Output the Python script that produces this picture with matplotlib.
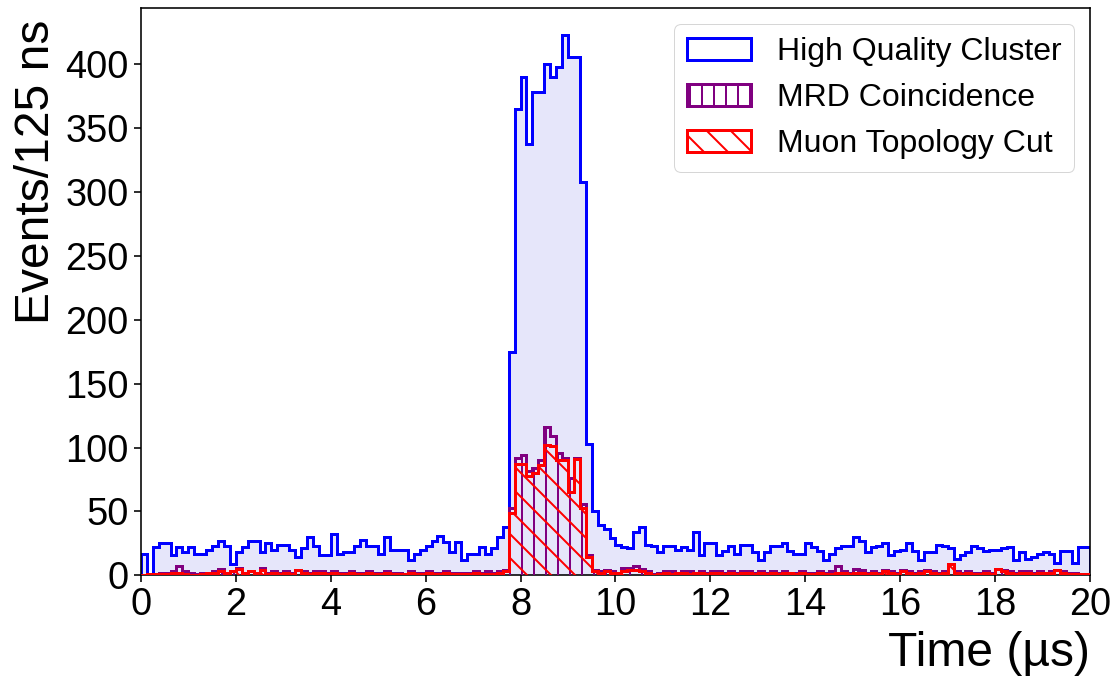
import numpy as np
import matplotlib
matplotlib.use("Agg")
import matplotlib.pyplot as plt

# histogram binning: 160 bins of 125 ns from 0 to 20 us
bin_width = 0.125
n_bins = 160

# counts per bin
high_quality = [
    17, 0, 22, 25, 25, 16, 22, 18, 22, 17, 17, 20, 23, 27, 23, 9, 18, 22, 27, 27,
    18, 25, 20, 24, 24, 20, 14, 21, 30, 23, 16, 16, 32, 17, 18, 18, 23, 28, 23, 23,
    17, 30, 20, 20, 20, 12, 17, 20, 23, 27, 31, 26, 18, 26, 12, 17, 17, 22, 17, 21,
    30, 38, 175, 365, 390, 338, 378, 378, 400, 390, 398, 423, 406, 406, 308, 103,
    50, 39, 36, 29, 24, 22, 21, 34, 38, 24, 23, 18, 23, 23, 20, 22, 20, 34, 16, 25,
    25, 16, 19, 23, 17, 24, 24, 18, 12, 18, 23, 23, 25, 19, 17, 17, 25, 22, 19, 12,
    17, 21, 23, 23, 30, 27, 18, 22, 23, 25, 16, 19, 20, 25, 19, 12, 18, 18, 24, 23,
    21, 13, 16, 18, 23, 21, 19, 20, 20, 21, 22, 12, 18, 13, 14, 17, 18, 17, 10, 19,
    19, 10, 22, 22,
]
mrd_coincidence = [
    0, 1, 1, 2, 2, 3, 7, 3, 2, 1, 2, 2, 3, 5, 2, 3, 6, 2, 3, 2,
    6, 2, 3, 2, 3, 2, 4, 3, 2, 3, 3, 2, 3, 2, 2, 3, 2, 2, 3, 2,
    2, 3, 2, 2, 1, 3, 2, 2, 3, 2, 2, 3, 2, 2, 2, 2, 3, 2, 3, 2,
    3, 4, 53, 92, 94, 82, 84, 90, 116, 109, 96, 92, 76, 92, 56, 16,
    4, 3, 4, 3, 2, 6, 6, 7, 5, 3, 1, 2, 3, 3, 2, 3, 3, 2, 3, 2,
    3, 3, 2, 3, 2, 3, 3, 2, 3, 2, 3, 2, 3, 2, 2, 3, 2, 2, 3, 2,
    3, 7, 3, 2, 5, 4, 2, 3, 2, 4, 3, 2, 4, 3, 2, 3, 4, 3, 2, 3,
    9, 3, 2, 3, 2, 2, 3, 2, 5, 4, 3, 2, 3, 3, 2, 3, 2, 3, 4, 3,
    2, 2, 1, 1,
]
muon_topology = [
    0, 1, 1, 1, 1, 2, 2, 1, 0, 0, 1, 2, 2, 3, 2, 3, 5, 2, 3, 2,
    4, 1, 2, 1, 2, 1, 4, 2, 1, 2, 2, 1, 2, 1, 1, 2, 1, 1, 2, 1,
    1, 2, 1, 1, 1, 2, 1, 1, 2, 1, 1, 2, 1, 1, 1, 1, 2, 1, 1, 1,
    2, 3, 49, 87, 87, 78, 80, 86, 102, 101, 90, 90, 65, 91, 53, 14,
    3, 2, 3, 2, 2, 3, 4, 4, 3, 2, 0, 1, 2, 1, 2, 2, 1, 2, 2, 1,
    2, 2, 1, 2, 1, 2, 2, 1, 2, 1, 2, 1, 2, 2, 1, 2, 1, 1, 2, 1,
    1, 2, 2, 1, 2, 2, 1, 2, 1, 3, 2, 1, 3, 2, 1, 2, 3, 2, 1, 2,
    9, 2, 1, 2, 1, 1, 2, 1, 5, 3, 2, 1, 2, 2, 1, 2, 2, 2, 4, 2,
    1, 1, 1, 1,
]
labels = ["High Quality Cluster", "MRD Coincidence", "Muon Topology Cut"]

plt.rcParams["font.family"] = ["Liberation Sans", "DejaVu Sans"]
plt.rcParams["hatch.linewidth"] = 2.0

edges = np.arange(n_bins + 1) * bin_width
centers = edges[:-1] + bin_width / 2

fig = plt.figure(figsize=(1118 / 72, 680 / 72), dpi=72)
ax = fig.add_axes([0.126, 0.154, 0.849, 0.834])

# light fill under the main histogram (no legend entry)
ax.stairs(high_quality, edges, fill=True, color="#e6e6fa", lw=0, zorder=1)

ax.hist(centers, bins=edges, weights=high_quality, histtype="step",
        color="blue", lw=3, label=labels[0], zorder=2)
ax.hist(centers, bins=edges, weights=mrd_coincidence, histtype="step",
        color="purple", lw=3, hatch="|", label=labels[1], zorder=3)
ax.hist(centers, bins=edges, weights=muon_topology, histtype="step",
        color="red", lw=3, hatch="\\", label=labels[2], zorder=4)

ax.set_xlim(0, 20)
ax.set_ylim(0, 444)
ax.set_xticks(np.arange(0, 21, 2))
ax.set_yticks(np.arange(0, 401, 50))
ax.tick_params(labelsize=38, length=7, width=1.6, pad=5)
for s in ax.spines.values():
    s.set_linewidth(1.6)
ax.set_xlabel("Time (µs)", fontsize=48, loc="right", labelpad=8)
ax.set_ylabel("Events/125 ns", fontsize=48, loc="top", labelpad=6)
ax.yaxis.label.set_y(0.98)

ax.legend(loc="upper right", fontsize=32)

fig.savefig("out.png", dpi=72)
